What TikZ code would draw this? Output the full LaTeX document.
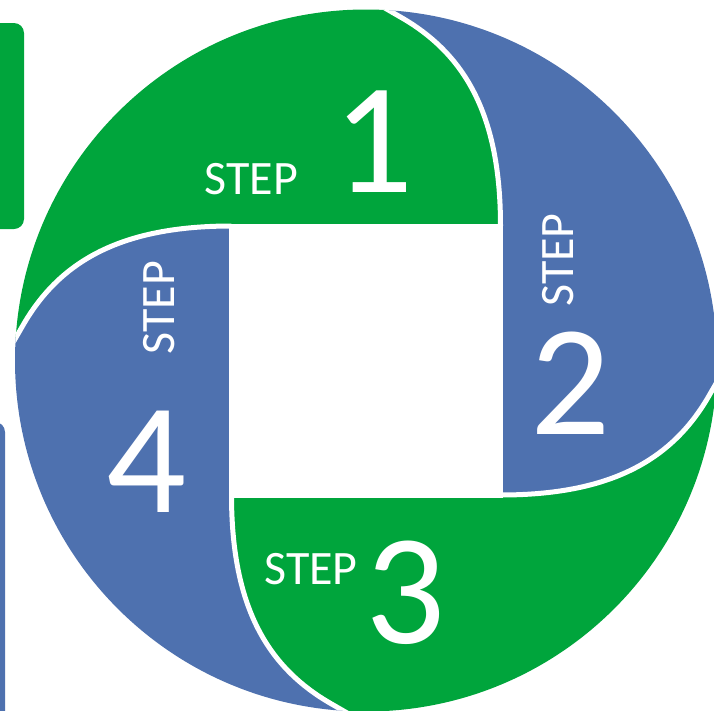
\documentclass[tikz,border=0pt]{standalone}
\usepackage{fontspec}
\setmainfont{Carlito}
\definecolor{stepgreen}{RGB}{0,165,60}
\definecolor{stepblue}{RGB}{78,113,175}
\begin{document}
\begin{tikzpicture}[x=1pt,y=-1pt,
  steptext/.style={text=white, inner sep=0pt, font=\fontsize{48}{48}\selectfont},
  bignum/.style={text=white, inner sep=0pt, font=\fontsize{158}{158}\selectfont},
  divider/.style={draw=white, line width=5pt}]
\useasboundingbox (0,0) rectangle (714,710);
\clip (0,0) rectangle (714,710);
% partial shapes at the left edge
\fill[stepgreen, rounded corners=10pt] (-30,23) rectangle (24,229);
\fill[stepblue, rounded corners=10pt] (-30,422) rectangle (5,760);
\begin{scope}[shift={(366,360.5)}]
  \begin{scope}
    \clip (0,0) circle (351pt);
    % step 1
    \fill[stepgreen] (-134.5,-134.5) -- (134.5,-134.5)
      .. controls (134.5,-244) and (100,-305) .. (37,-342) -- (-15,-372)
      -- (-500,-500) -- (-372,15) -- (-342,-37)
      .. controls (-305,-100) and (-244,-134.5) .. (-134.5,-134.5) -- cycle;
    % step 2
    \fill[stepblue] (134.5,-134.5) -- (134.5,134.5)
      .. controls (244,134.5) and (305,100) .. (342,37) -- (372,-15)
      -- (500,-500) -- (-15,-372) -- (37,-342)
      .. controls (100,-305) and (134.5,-244) .. (134.5,-134.5) -- cycle;
    % step 3
    \fill[stepgreen] (134.5,134.5) -- (-134.5,134.5)
      .. controls (-134.5,244) and (-100,305) .. (-37,342) -- (15,372)
      -- (500,500) -- (372,-15) -- (342,37)
      .. controls (305,100) and (244,134.5) .. (134.5,134.5) -- cycle;
    % step 4
    \fill[stepblue] (-134.5,134.5) -- (-134.5,-134.5)
      .. controls (-244,-134.5) and (-305,-100) .. (-342,-37) -- (-372,15)
      -- (-500,500) -- (15,372) -- (-37,342)
      .. controls (-100,305) and (-134.5,244) .. (-134.5,134.5) -- cycle;
    % white separators
    \draw[divider] (-134.5,-134.5) rectangle (134.5,134.5);
    \draw[divider] (134.5,-134.5) .. controls (134.5,-244) and (100,-305) .. (37,-342) -- (-15,-372);
    \draw[divider] (134.5,134.5) .. controls (244,134.5) and (305,100) .. (342,37) -- (372,-15);
    \draw[divider] (-134.5,134.5) .. controls (-134.5,244) and (-100,305) .. (-37,342) -- (15,372);
    \draw[divider] (-134.5,-134.5) .. controls (-244,-134.5) and (-305,-100) .. (-342,-37) -- (-372,15);
  \end{scope}
\end{scope}
% labels
\node[steptext] (s1label) at (251.5,179.5) {STEP};
\node[bignum] (s1num) at (373.5,142) {1};
\node[steptext, rotate=90] (s2label) at (558,260) {STEP};
\node[bignum] (s2num) at (571,383) {2};
\node[steptext] (s3label) at (311,569) {STEP};
\node[bignum] (s3num) at (406,593) {3};
\node[steptext, rotate=90] (s4label) at (159.5,307.5) {STEP};
\node[bignum] (s4num) at (147,462) {4};
\end{tikzpicture}
\end{document}
